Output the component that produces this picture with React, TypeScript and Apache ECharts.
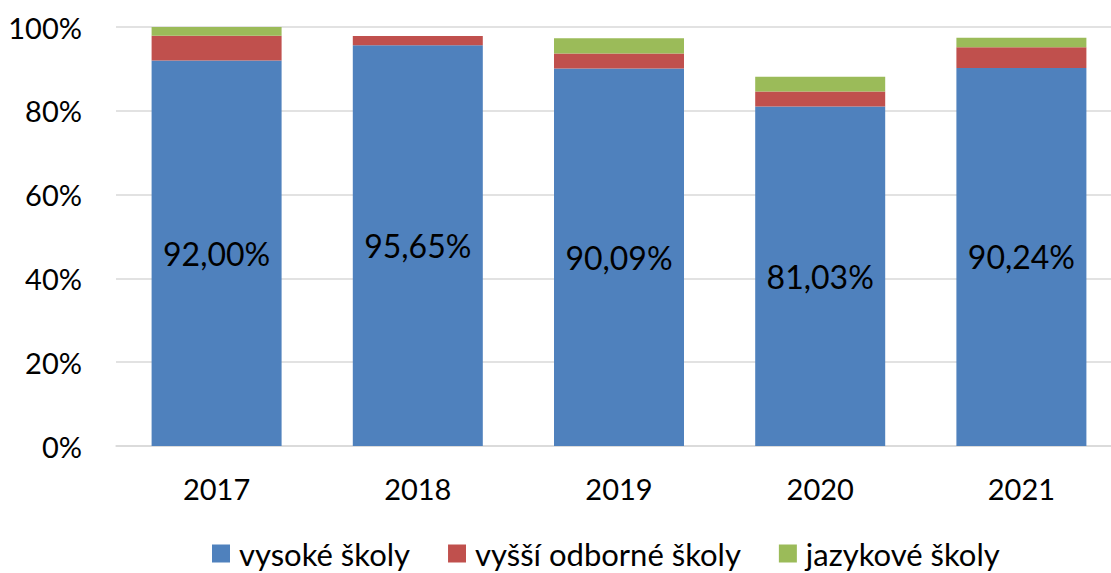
import React, { useEffect, useRef } from "react";
import * as echarts from "echarts";

const categories = ["2017", "2018", "2019", "2020", "2021"];
const seriesNames = ["vysoké školy", "vyšší odborné školy", "jazykové školy"];
const vysoke = [92.0, 95.65, 90.09, 81.03, 90.24];
const vyssi = [5.9, 2.2, 3.6, 3.6, 4.9];
const jazykove = [2.1, 0, 3.6, 3.5, 2.3];
const colors = ["#4f81bd", "#c0504d", "#9bbb59"];
const yTicks = [0, 20, 40, 60, 80, 100];

const FONT = "Lato, 'Open Sans', sans-serif";

export default function App() {
  const ref = useRef<HTMLDivElement>(null);
  useEffect(() => {
    if (!ref.current) return;
    const chart = echarts.init(ref.current, null, { renderer: "svg" });
    const fmt = (v: number) => v.toFixed(2).replace(".", ",") + "%";
    const data = [vysoke, vyssi, jazykove];
    chart.setOption({
      animation: false,
      textStyle: { fontFamily: FONT },
      color: colors,
      grid: { left: 116, top: 27, bottom: 127, width: 1006, containLabel: false },
      legend: {
        top: 533,
        left: 207,
        itemWidth: 18,
        itemHeight: 18,
        itemGap: 38,
        icon: "rect",
        textStyle: { fontSize: 31, color: "#000", fontFamily: FONT, padding: [0, 0, 0, 4], lineHeight: 31 },
        data: seriesNames,
      },
      xAxis: {
        type: "category",
        data: categories,
        axisLine: { lineStyle: { color: "#d9d9d9", width: 1.5 } },
        axisTick: { show: false },
        axisLabel: { fontSize: 29, color: "#000", margin: 28, fontFamily: FONT },
      },
      yAxis: {
        type: "value",
        min: yTicks[0],
        max: yTicks[yTicks.length - 1],
        interval: 20,
        axisLine: { show: false },
        axisTick: { show: false },
        splitLine: { lineStyle: { color: "#d9d9d9", width: 1.5 } },
        axisLabel: {
          fontSize: 29,
          color: "#000",
          margin: 34,
          fontFamily: FONT,
          formatter: "{value}%",
        },
      },
      series: seriesNames.map((name, i) => ({
        name,
        type: "bar",
        stack: "total",
        barWidth: 130,
        data: data[i],
        itemStyle: { color: colors[i] },
        label:
          i === 0
            ? {
                show: true,
                position: "inside",
                fontSize: 32,
                color: "#000",
                fontFamily: FONT,
                formatter: (p: any) => fmt(p.value),
              }
            : { show: false },
      })),
    });
    return () => chart.dispose();
  }, []);
  return (
    <div style={{ position: "fixed", left: 0, top: 0, width: 1111, height: 573, overflow: "hidden", background: "#fff" }}>
      <div ref={ref} style={{ width: 1130, height: 573 }} />
    </div>
  );
}
